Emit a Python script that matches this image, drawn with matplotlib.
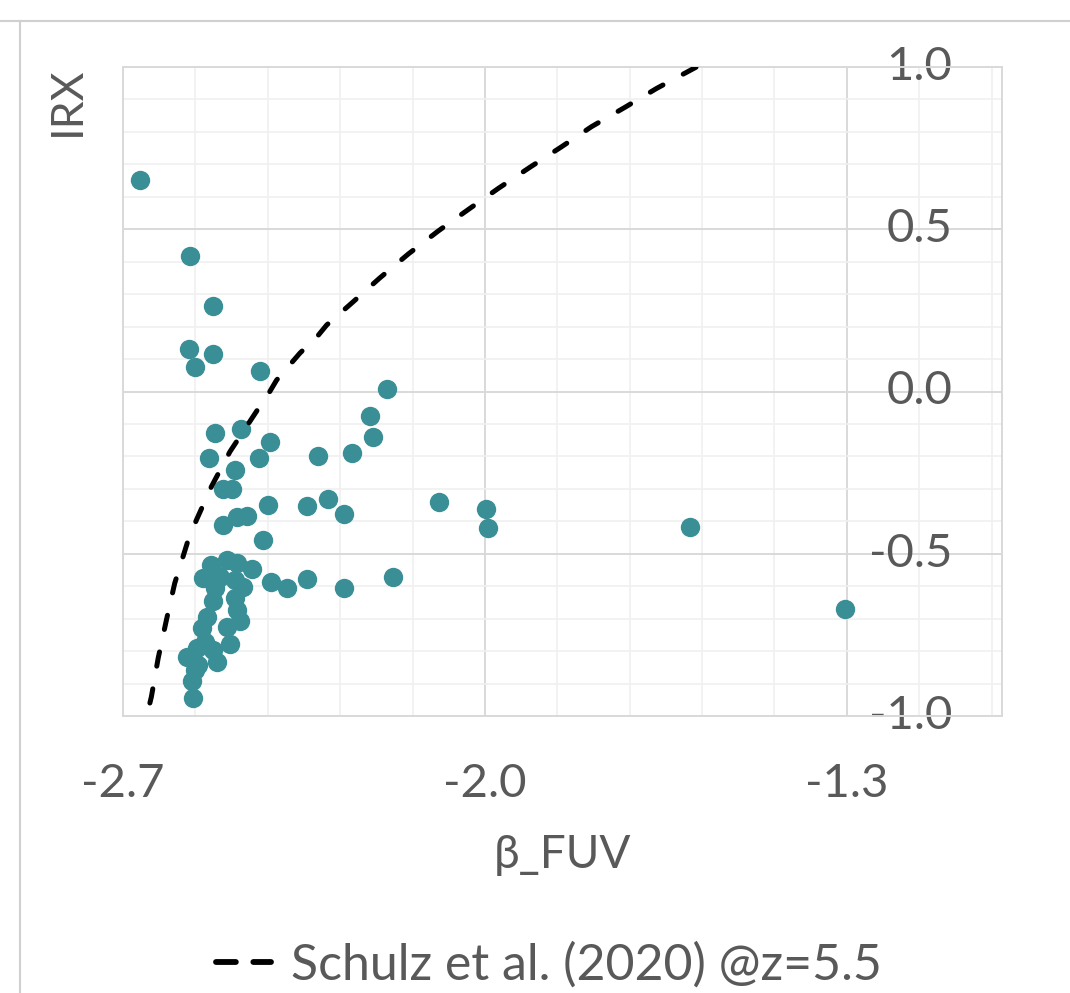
import matplotlib
matplotlib.use('Agg')
import matplotlib.pyplot as plt
import numpy as np
from matplotlib.lines import Line2D
from matplotlib.ticker import FixedLocator, MultipleLocator, FormatStrFormatter

plt.rcParams['font.family'] = ['Lato', 'DejaVu Sans']
plt.rcParams['axes.unicode_minus'] = False

beta_fuv = [-2.667, -2.570, -2.525, -2.572, -2.525, -2.561, -2.436, -2.189,
            -2.222, -2.217, -2.257, -2.322, -2.522, -2.472, -2.415, -2.533,
            -2.437, -2.483, -2.506, -2.490, -2.419, -2.345, -2.303, -2.272,
            -2.507, -2.480, -2.461, -2.429, -2.088, -1.998, -1.994, -1.604,
            -1.304, -2.177, -2.272, -2.345, -2.382, -2.413, -2.451, -2.530,
            -2.499, -2.479, -2.545, -2.512, -2.483, -2.467, -2.522, -2.525,
            -2.483, -2.479, -2.473, -2.537, -2.548, -2.499, -2.494, -2.541,
            -2.557, -2.525, -2.577, -2.519, -2.554, -2.561, -2.567, -2.565]
irx = [0.652, 0.418, 0.263, 0.132, 0.116, 0.075, 0.063, 0.007,
       -0.075, -0.141, -0.190, -0.199, -0.129, -0.117, -0.155, -0.204,
       -0.205, -0.242, -0.300, -0.300, -0.351, -0.352, -0.332, -0.379,
       -0.411, -0.388, -0.384, -0.459, -0.340, -0.363, -0.422, -0.419,
       -0.670, -0.571, -0.605, -0.579, -0.607, -0.586, -0.548, -0.535,
       -0.519, -0.530, -0.576, -0.571, -0.581, -0.601, -0.607, -0.645,
       -0.637, -0.673, -0.706, -0.696, -0.730, -0.725, -0.778, -0.771,
       -0.791, -0.797, -0.817, -0.833, -0.843, -0.858, -0.891, -0.945]

# Schulz et al. (2020) relation at z=5.5
schulz_beta = [-2.648, -2.645, -2.632, -2.616, -2.600, -2.574, -2.558, -2.529,
               -2.493, -2.438, -2.416, -2.403, -2.358, -2.322, -2.306, -2.258,
               -2.204, -2.148, -2.090, -2.032, -1.974, -1.913, -1.852, -1.794,
               -1.729, -1.668, -1.591]
schulz_irx = [-0.960, -0.940, -0.822, -0.704, -0.591, -0.458, -0.396, -0.293,
              -0.185, -0.052, 0.000, 0.035, 0.118, 0.174, 0.205, 0.272,
              0.349, 0.424, 0.495, 0.561, 0.626, 0.691, 0.754, 0.816,
              0.876, 0.934, 1.000]

x_major = [-2.7, -2.0, -1.3]
y_major = [-1.0, -0.5, 0.0, 0.5, 1.0]

text_color = '#595959'
teal = '#3A8F96'
schulz_label = 'Schulz et al. (2020) @z=5.5'

fig = plt.figure(figsize=(10.7, 9.93), dpi=100)
ax = fig.add_axes([123 / 1070, 1 - 716 / 993, 879 / 1070, 649 / 993])

# Chart-area border (partially cropped, as in the reference)
fig.add_artist(Line2D([0, 1], [1 - 21 / 993] * 2, transform=fig.transFigure,
                      color='#d0d0d0', lw=1.5))
fig.add_artist(Line2D([20 / 1070] * 2, [0, 1 - 21 / 993], transform=fig.transFigure,
                      color='#d0d0d0', lw=1.5))

ax.scatter(beta_fuv, irx, s=195, color=teal, linewidths=0, zorder=3)
ax.plot(schulz_beta, schulz_irx, color='black', lw=3.6, linestyle=(0, (2.9, 4.6)),
        dash_capstyle='round', zorder=4)

ax.set_xlim(-2.7, -1.0)
ax.set_ylim(-1.0, 1.0)
ax.xaxis.set_major_locator(FixedLocator(x_major))
ax.xaxis.set_minor_locator(FixedLocator(np.arange(-2.7, -1.0, 0.14)))
ax.yaxis.set_major_locator(FixedLocator(y_major))
ax.yaxis.set_minor_locator(MultipleLocator(0.1))
ax.xaxis.set_major_formatter(FormatStrFormatter('%.1f'))
ax.yaxis.set_major_formatter(FormatStrFormatter('%.1f'))

ax.grid(which='minor', color='#f0f0f0', lw=1.2, zorder=0)
ax.grid(which='major', color='#d9d9d9', lw=1.4, zorder=1)
ax.set_axisbelow(True)
for sp in ax.spines.values():
    sp.set_color('#d9d9d9')
    sp.set_linewidth(1.4)

ax.tick_params(which='both', length=0)
ax.tick_params(axis='x', labelsize=34, labelcolor=text_color, pad=34)
ax.yaxis.set_ticks_position('right')
ax.tick_params(axis='y', labelsize=34, labelcolor=text_color, pad=-36,
               labelright=True, labelleft=False)
for lab in ax.get_yticklabels():
    lab.set_horizontalalignment('right')
    lab.set_verticalalignment('center')

ax.set_xlabel('β_FUV', fontsize=33, color=text_color, labelpad=21)
ax.yaxis.set_label_position('left')
ax.set_ylabel('IRX', fontsize=32, color=text_color, loc='top', labelpad=25)

# Legend key drawn with the shorter, bolder dashes seen in the reference
key = Line2D([], [], color='black', lw=4.2, linestyle=(0, (3.4, 3.0)),
             dash_capstyle='round')
fig.legend(handles=[key], labels=[schulz_label], loc='center',
           bbox_to_anchor=(549 / 1070, 1 - 965 / 993),
           frameon=False, fontsize=36, labelcolor=text_color,
           handlelength=1.1, handletextpad=0.4)

fig.savefig('out.png', dpi=100)
